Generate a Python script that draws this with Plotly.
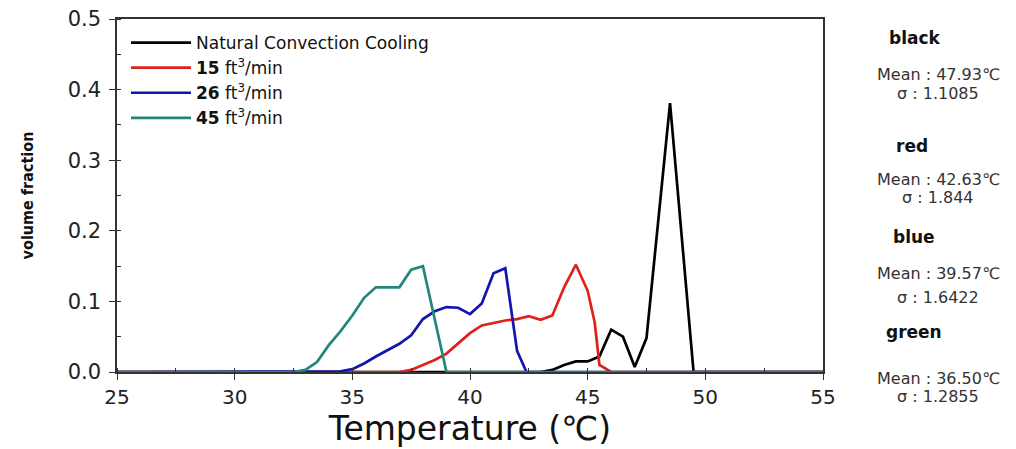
import plotly.graph_objects as go

# Temperature (°C) / volume fraction
natural_x = [25, 43, 43.5, 44, 44.5, 45, 45.5, 46, 46.5, 47, 47.5, 48.5, 49.5, 55]
natural_y = [0, 0, 0.003, 0.01, 0.015, 0.015, 0.022, 0.06, 0.05, 0.007, 0.048, 0.381, 0, 0]

flow15_x = [25, 37, 37.5, 38, 38.5, 39, 39.5, 40, 40.5, 41, 41.5, 42, 42.5, 43, 43.5, 44, 44.5, 45, 45.3, 45.5, 46, 55]
flow15_y = [0, 0, 0.003, 0.01, 0.017, 0.026, 0.04, 0.055, 0.066, 0.07, 0.073, 0.075, 0.079, 0.074, 0.08, 0.12, 0.152, 0.115, 0.07, 0.01, 0, 0]

flow26_x = [25, 34, 34.5, 35, 35.5, 36, 36.5, 37, 37.5, 38, 38.5, 39, 39.5, 40, 40.5, 41, 41.5, 42, 42.4, 55]
flow26_y = [0, 0, 0.001, 0.004, 0.012, 0.022, 0.031, 0.04, 0.052, 0.075, 0.086, 0.092, 0.091, 0.082, 0.097, 0.14, 0.147, 0.03, 0, 0]

flow45_x = [25, 32.5, 33, 33.5, 34, 34.5, 35, 35.5, 36, 36.5, 37, 37.5, 38, 39, 55]
flow45_y = [0, 0, 0.003, 0.014, 0.038, 0.058, 0.08, 0.105, 0.12, 0.12, 0.12, 0.145, 0.15, 0, 0]

series_names = ["Natural Convection Cooling",
                "<b>15</b> ft<sup>3</sup>/min",
                "<b>26</b> ft<sup>3</sup>/min",
                "<b>45</b> ft<sup>3</sup>/min"]
series_colors = ["#000000", "#e0201c", "#1414b0", "#23867a"]

stat_labels = ["black", "red", "blue", "green"]
stat_means = ["47.93", "42.63", "39.57", "36.50"]
stat_sigmas = ["1.1085", "1.844", "1.6422", "1.2855"]

xs = [natural_x, flow15_x, flow26_x, flow45_x]
ys = [natural_y, flow15_y, flow26_y, flow45_y]

FONT = "DejaVu Sans, Liberation Sans, sans-serif"

fig = go.Figure()
for x, y, n, c in zip(xs, ys, series_names, series_colors):
    fig.add_trace(go.Scatter(x=x, y=y, mode="lines", name=n,
                             line=dict(color=c, width=2.7)))

# page body has an 8px margin; figure sized to fit the window
W, H = 1008, 441
L, T = 109, 11
PW, PH = 706, 353
R = W - L - PW
B = H - T - PH
OX, OY = 8 + L, 8 + T  # screen position of plot area top-left

def px(xs_):
    return (xs_ - OX) / PW

def py(ys_):
    return (OY + PH - ys_) / PH

label_y = [38, 146, 237, 332]
mean_y = [74, 180, 273, 378]
sigma_y = [93, 198, 297, 396]
label_x = [915, 912, 914, 914]
for lab, m, s, ly, my, sy, lx in zip(stat_labels, stat_means, stat_sigmas, label_y, mean_y, sigma_y, label_x):
    fig.add_annotation(x=px(lx), y=py(ly), xref="paper", yref="paper", text="<b>" + lab + "</b>",
                       showarrow=False, font=dict(size=17, color="#111", family=FONT),
                       xanchor="center", yanchor="middle")
    fig.add_annotation(x=px(938), y=py(my), xref="paper", yref="paper", text="Mean : " + m + "℃",
                       showarrow=False, font=dict(size=16, color="#333", family=FONT),
                       xanchor="center", yanchor="middle")
    fig.add_annotation(x=px(938), y=py(sy), xref="paper", yref="paper", text="σ : " + s,
                       showarrow=False, font=dict(size=16, color="#333", family=FONT),
                       xanchor="center", yanchor="middle")

fig.update_layout(
    width=W, height=H,
    margin=dict(l=L, r=R, t=T, b=B, autoexpand=False),
    paper_bgcolor="white", plot_bgcolor="white",
    font=dict(family=FONT, color="#222"),
    showlegend=True,
    legend=dict(x=px(126), y=py(25), xanchor="left", yanchor="top",
                bgcolor="rgba(0,0,0,0)", font=dict(size=17, color="#111", family=FONT),
                tracegroupgap=0, itemwidth=60),
    xaxis=dict(range=[25, 55], dtick=5, tick0=25, showgrid=False, zeroline=False,
               automargin=False, ticklabeloverflow="allow",
               showline=True, linecolor="#333", linewidth=1.5, mirror=True,
               ticks="outside", ticklen=6, tickcolor="#333",
               minor=dict(dtick=2.5, ticks="inside", ticklen=4, tickcolor="#333"),
               tickfont=dict(size=20, color="#222", family=FONT),
               title=dict(text="Temperature (℃)", font=dict(size=33, color="#111", family=FONT), standoff=6)),
    yaxis=dict(range=[0, 0.5], dtick=0.1, tickformat=".1f", showgrid=False, zeroline=False,
               automargin=False, ticklabeloverflow="allow",
               showline=True, linecolor="#333", linewidth=1.5, mirror=True,
               ticks="outside", ticklen=6, tickcolor="#333", ticklabelstandoff=4,
               minor=dict(dtick=0.05, ticks="inside", ticklen=4, tickcolor="#333"),
               tickfont=dict(size=21, color="#222", family=FONT),
               title=dict(text="<b>volume fraction</b>", font=dict(size=16, color="#111", family="DejaVu Sans Condensed, DejaVu Sans"), standoff=30)),
)

fig.write_html("out.html")
